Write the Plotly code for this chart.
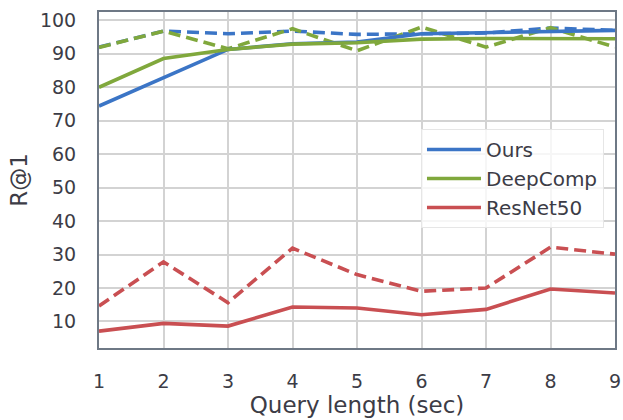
import plotly.graph_objects as go

x = [1, 2, 3, 4, 5, 6, 7, 8, 9]
ours = [74.4, 82.8, 91.3, 93.0, 93.5, 96.0, 96.4, 96.7, 97.0]
ours_dash = [92.0, 96.8, 96.0, 96.8, 95.8, 96.0, 96.2, 97.7, 97.0]
deep = [80.0, 88.6, 91.3, 92.9, 93.3, 94.4, 94.6, 94.6, 94.5]
deep_dash = [91.9, 96.8, 91.5, 97.5, 90.9, 98.0, 92.0, 97.8, 92.0]
res = [7.1, 9.4, 8.6, 14.3, 14.0, 12.0, 13.6, 19.7, 18.5]
res_dash = [14.6, 27.8, 15.6, 31.9, 24.0, 19.0, 20.0, 32.2, 30.1]

BLUE = "#3b75c6"
GREEN = "#80a83c"
RED = "#c94f52"

fig = go.Figure()
W = 3.6
DASH = "12px,6px"
fig.add_trace(go.Scatter(x=x, y=res_dash, mode="lines", line=dict(color=RED, width=W, dash=DASH), showlegend=False))
fig.add_trace(go.Scatter(x=x, y=ours_dash, mode="lines", line=dict(color=BLUE, width=W, dash=DASH), showlegend=False))
fig.add_trace(go.Scatter(x=x, y=deep_dash, mode="lines", line=dict(color=GREEN, width=W, dash=DASH), showlegend=False))
fig.add_trace(go.Scatter(x=x, y=ours, mode="lines", name="Ours", line=dict(color=BLUE, width=W)))
fig.add_trace(go.Scatter(x=x, y=deep, mode="lines", name="DeepComp", line=dict(color=GREEN, width=W)))
fig.add_trace(go.Scatter(x=x, y=res, mode="lines", name="ResNet50", line=dict(color=RED, width=W)))

fig.update_layout(
    width=623, height=420,
    margin=dict(l=99, r=8, t=12, b=72),
    paper_bgcolor="white", plot_bgcolor="white",
    font=dict(family="DejaVu Sans", size=19, color="#3c3c46"),
    legend=dict(x=0.624, y=0.652, xanchor="left", yanchor="top",
                bgcolor="rgba(255,255,255,0.8)", bordercolor="#e6e6e6", borderwidth=1,
                font=dict(size=20), tracegroupgap=0, itemwidth=54),
    xaxis=dict(range=[1, 9], tickvals=x, showgrid=True, gridcolor="#d3d3d3", gridwidth=1.5,
               showline=True, linecolor="#6e7885", linewidth=2, mirror=True, zeroline=False,
               ticks="", ticklabelstandoff=15, automargin=False,
               title=dict(text="Query length (sec)", font=dict(size=23), standoff=4)),
    yaxis=dict(range=[2.05, 102.5], tickvals=list(range(10, 101, 10)), showgrid=True,
               gridcolor="#d3d3d3", gridwidth=1.5,
               showline=True, linecolor="#6e7885", linewidth=2, mirror=True, zeroline=False,
               ticks="", ticklabelstandoff=17, automargin=False,
               title=dict(text="R@1", font=dict(size=23), standoff=6)),
)

fig.write_html("out.html", config={"displayModeBar": False},
               post_script="document.body.style.margin='0';")
